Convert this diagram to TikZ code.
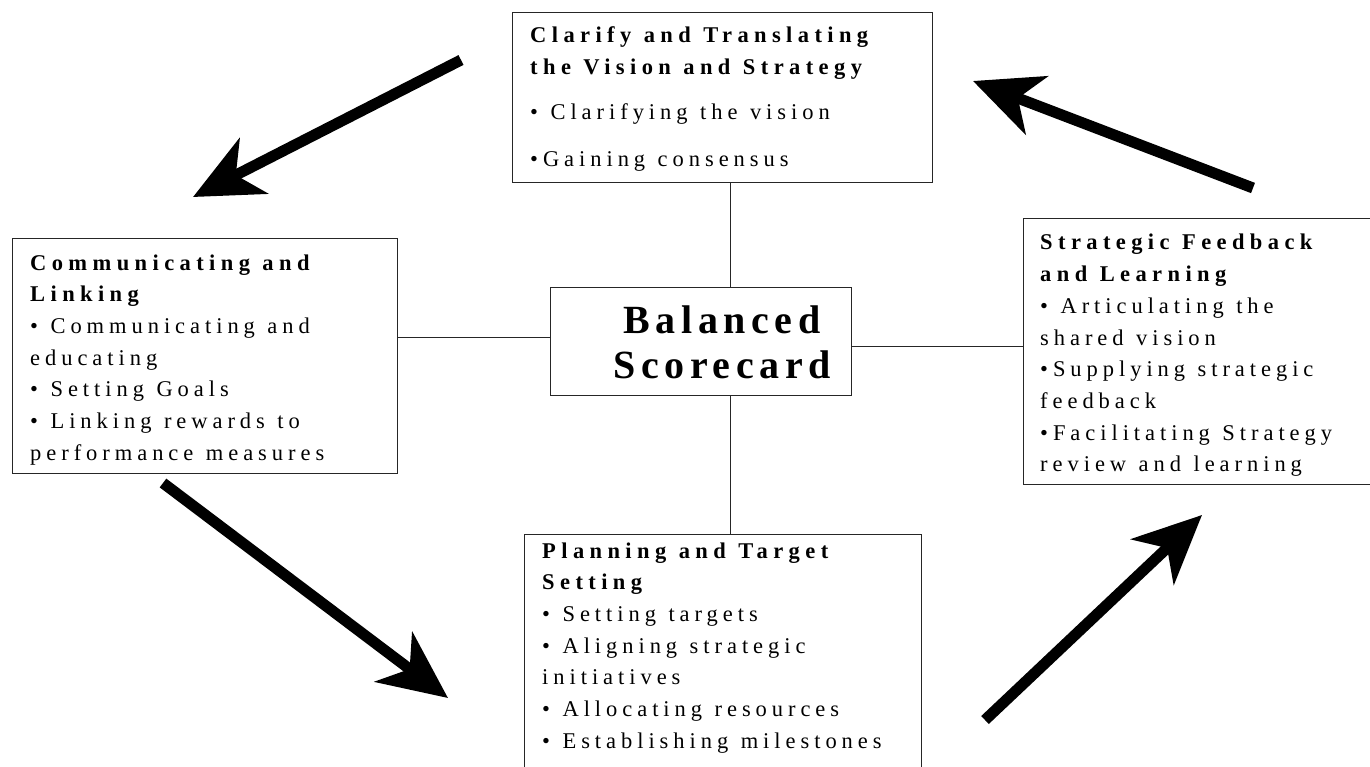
\documentclass[tikz,border=0pt]{standalone}
\usepackage{fontspec}
\setmainfont{Liberation Serif}
\newfontfamily\boxfont[LetterSpace=22, BoldFeatures={LetterSpace=24}]{Liberation Serif}
\newfontfamily\bigfont[LetterSpace=14]{Liberation Serif}
\usetikzlibrary{arrows.meta}
\newcommand\widesp{\spaceskip=12.5pt plus 2pt minus 2pt\relax\xspaceskip=12.5pt\relax}
\begin{document}
\begin{tikzpicture}[x=1pt,y=-1pt,
  boxframe/.style={draw=black!85, line width=1.3pt, inner sep=0pt, anchor=north west},
  boxtext/.style={anchor=base west, inner sep=0pt, text width=420pt,
    font={\boxfont\fontsize{22.5}{31.7}\selectfont}, execute at begin node=\widesp},
  link/.style={line width=1pt, draw=black!85},
  bigarrow/.style={line width=11pt, -{Stealth[length=68pt, width=62pt, inset=20pt]}}
]
\useasboundingbox (0,0) rectangle (1370,767);
\clip (0,0) rectangle (1370,767);

% boxes
\node[boxframe, minimum width=420pt, minimum height=170pt] (clar) at (512,12) {};
\node[boxframe, minimum width=385pt, minimum height=235pt] (comm) at (12,238) {};
\node[boxframe, minimum width=400pt, minimum height=266pt] (feed) at (1023,218) {};
\node[boxframe, minimum width=397pt, minimum height=300pt] (plan) at (524,534) {};
\node[boxframe, minimum width=301pt, minimum height=108pt] (bsc) at (550,287) {};

% texts
\node[boxtext] (clart) at (530,43) {\widesp\textbf{Clarify and Translating}\\
\textbf{the Vision and Strategy}\\[13pt]
• Clarifying the vision\\[15pt]
•Gaining consensus};

\node[boxtext] (commt) at (30,270) {\widesp\textbf{Communicating and}\\
\textbf{Linking}\\
• Communicating and\\
educating\\
• Setting Goals\\
• Linking rewards to\\
performance measures};

\node[boxtext] (feedt) at (1040,250) {\widesp\textbf{Strategic Feedback}\\
\textbf{and Learning}\\
• Articulating the\\
shared vision\\
•Supplying strategic\\
feedback\\
•Facilitating Strategy\\
review and learning};

\node[boxtext] (plant) at (542,558) {\widesp\textbf{Planning and Target}\\
\textbf{Setting}\\
• Setting targets\\
• Aligning strategic\\
initiatives\\
• Allocating resources\\
• Establishing milestones};

\node[anchor=base, inner sep=0pt, align=center, font=\bigfont\bfseries\fontsize{40}{45}\selectfont] (bsct) at (722,378) {Balanced\\Scorecard};

% connectors
\coordinate (vx) at (730,0);
\coordinate (hl) at (0,337);
\coordinate (hr) at (0,346);
\draw[link] (clar.south -| vx) -- (bsc.north -| vx);
\draw[link] (bsc.south -| vx) -- (plan.north -| vx);
\draw[link] (comm.east |- hl) -- (bsc.west |- hl);
\draw[link] (bsc.east |- hr) -- (feed.west |- hr);

% big arrows
\coordinate (a1s) at (461,60);  \coordinate (a1e) at (193,197);
\coordinate (a2s) at (1253,188); \coordinate (a2e) at (973,81);
\coordinate (a3s) at (163,483); \coordinate (a3e) at (448,698);
\coordinate (a4s) at (985,720); \coordinate (a4e) at (1202,515);
\draw[bigarrow] (a1s) -- (a1e);
\draw[bigarrow] (a2s) -- (a2e);
\draw[bigarrow] (a3s) -- (a3e);
\draw[bigarrow] (a4s) -- (a4e);
\end{tikzpicture}
\end{document}
